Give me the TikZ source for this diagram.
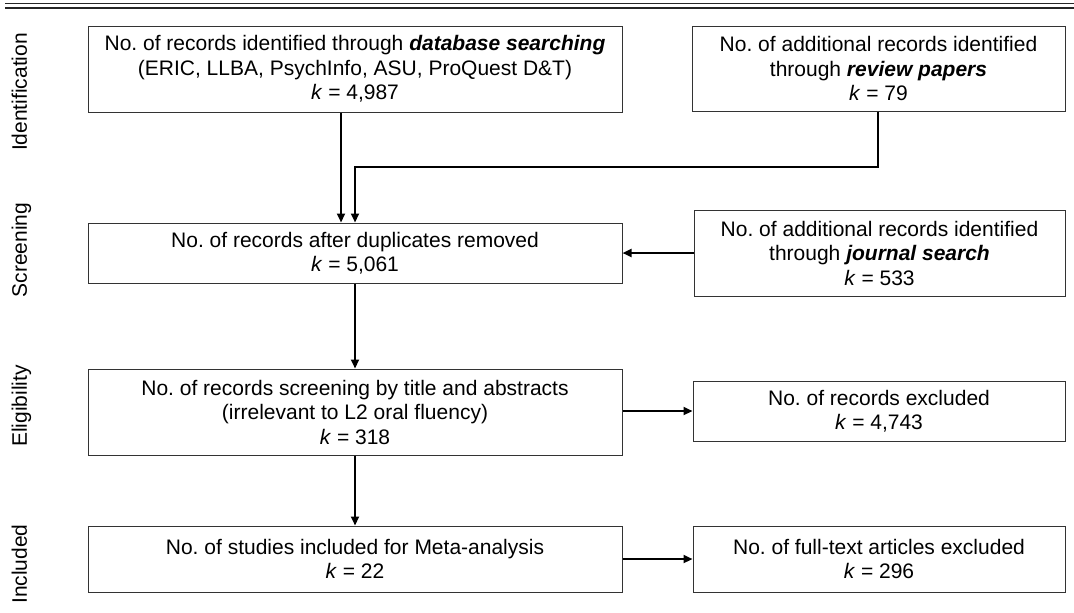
\documentclass[tikz,border=0pt]{standalone}
\usepackage{fontspec}
\setmainfont{Liberation Sans}
\usetikzlibrary{arrows.meta}
\begin{document}
\frenchspacing
\begin{tikzpicture}[x=1pt,y=-1pt,
  box/.style={draw=black!80, line width=1pt, inner sep=0pt, align=center,
    font=\fontsize{21}{24.5}\selectfont},
  conn/.style={line width=2.2pt, black},
  arr/.style={conn, -{Triangle[length=9pt,width=8pt]}},
  phase/.style={rotate=90, anchor=base, font=\fontsize{21}{24.5}\selectfont},
  rule/.style={black!85}]
\useasboundingbox (0,0) rectangle (1074,613);
% top double rule
\draw[rule, line width=1pt] (5,3) -- (1074,3);
\draw[rule, line width=1.6pt] (5,8) -- (1074,8);
% phase labels
\node[phase] (pI) at (27,92) {Identification};
\node[phase] (pS) at (27,250) {Screening};
\node[phase] (pE) at (27,406) {Eligibility};
\node[phase] (pN) at (27,564) {Included};
% boxes
\node[box, minimum width=534, minimum height=86] (b1) at (355,69)
  {No. of records identified through \textbf{\textit{database searching}}\\
   (ERIC, LLBA, PsychInfo, ASU, ProQuest D\&T)\\ \textit{k} = 4,987};
\node[box, minimum width=373, minimum height=85] (b2) at (878.5,68.5)
  {No. of additional records identified\\ through \textbf{\textit{review papers}}\\ \textit{k} = 79};
\node[box, minimum width=534, minimum height=60] (b3) at (355,253)
  {No. of records after duplicates removed\\ \textit{k} = 5,061};
\node[box, minimum width=371, minimum height=86] (b4) at (879.5,253)
  {No. of additional records identified\\ through \textbf{\textit{journal search}}\\ \textit{k} = 533};
\node[box, minimum width=534, minimum height=86] (b5) at (355,412)
  {No. of records screening by title and abstracts\\ (irrelevant to L2 oral fluency)\\ \textit{k} = 318};
\node[box, minimum width=372, minimum height=60] (b6) at (879,411)
  {No. of records excluded\\ \textit{k} = 4,743};
\node[box, minimum width=534, minimum height=66] (b7) at (355,559)
  {No. of studies included for Meta-analysis\\ \textit{k} = 22};
\node[box, minimum width=372, minimum height=66] (b8) at (879,559)
  {No. of full-text articles excluded\\ \textit{k} = 296};
% connectors
\draw[arr] ([xshift=-14pt]b1.south) -- ([xshift=-14pt]b3.north);
\coordinate (j) at (878,167);
\draw[arr] (b2.south -| j) -- (j) -- (j -| b3.north) -- (b3.north);
\draw[arr] (b4.west |- b3.east) -- (b3.east);
\draw[arr] (b3.south) -- (b5.north);
\draw[arr] (b5.south) -- (b7.north);
\draw[arr] (b5.east |- b6.west) -- (b6.west);
\draw[arr] (b7.east) -- (b8.west);
\end{tikzpicture}
\end{document}
